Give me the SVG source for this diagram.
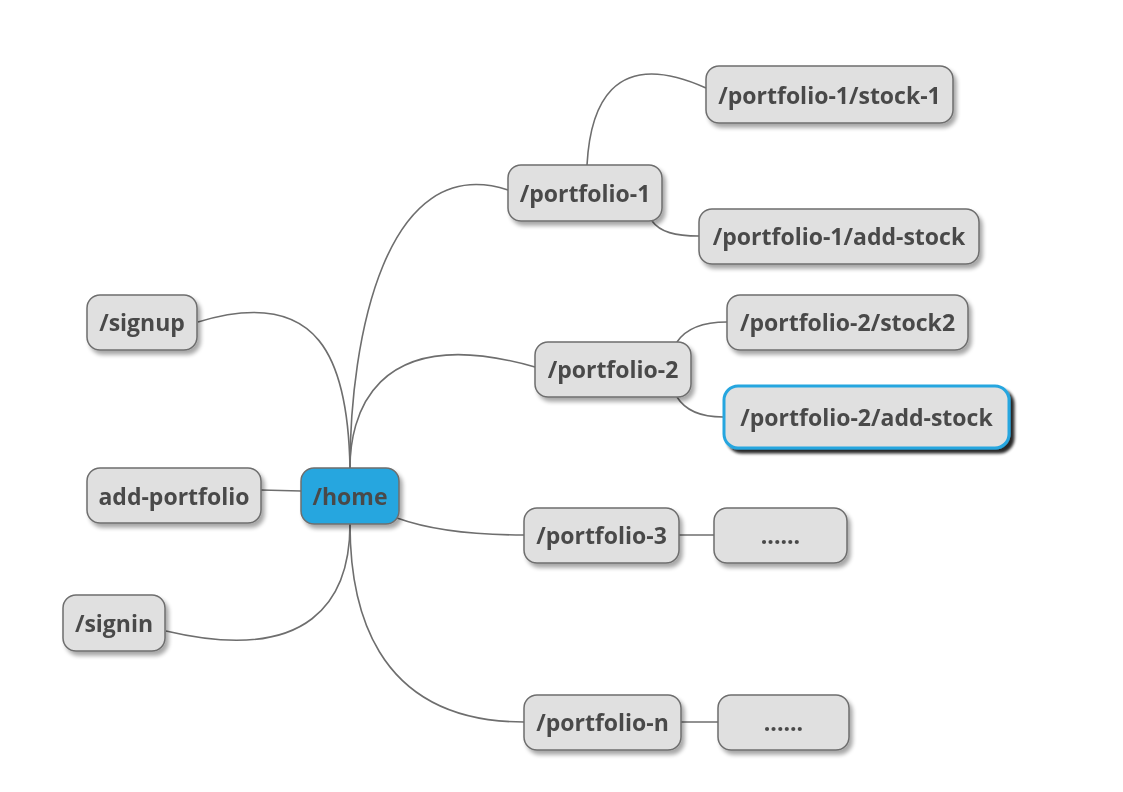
<svg xmlns="http://www.w3.org/2000/svg" width="1123" height="792" viewBox="0 0 1123 792">
<defs>
<filter id="sh" x="-20%" y="-30%" width="140%" height="170%">
<feGaussianBlur in="SourceAlpha" stdDeviation="2"/>
<feOffset dx="3" dy="4" result="b"/>
<feComponentTransfer><feFuncA type="linear" slope="0.35"/></feComponentTransfer>
<feMerge><feMergeNode/><feMergeNode in="SourceGraphic"/></feMerge>
</filter>
<filter id="sh2" x="-20%" y="-30%" width="140%" height="170%">
<feGaussianBlur in="SourceAlpha" stdDeviation="1.5"/>
<feOffset dx="4" dy="4" result="b"/>
<feComponentTransfer><feFuncA type="linear" slope="0.85"/></feComponentTransfer>
<feMerge><feMergeNode/><feMergeNode in="SourceGraphic"/></feMerge>
</filter>
</defs>
<style>
.n rect{fill:#e0e0e0;stroke:#6e6e6e;stroke-width:1.5}
.n text{font-family:"Open Sans","Noto Sans",sans-serif;font-weight:bold;font-size:23px;fill:#4a4a4a;text-anchor:middle;dominant-baseline:central}
#home rect{fill:#27a6df}
#p2add rect{stroke:#27a6df;stroke-width:3}
.c path{fill:none;stroke:#6e6e6e;stroke-width:1.6}
</style>
<rect width="1123" height="792" fill="#ffffff"/>
<g class="c">
<path d="M350,468 C348,360 320,285 198,322"/>
<path d="M261,490 L301,491"/>
<path d="M350,524 C350,600 310,665 166,631"/>
<path d="M350,468 C350,340 385,150 508,190"/>
<path d="M350,468 C350,420 370,320 535,367"/>
<path d="M397,518 C430,530 470,535 524,535"/>
<path d="M350,524 C350,600 370,722 524,722"/>
<path d="M587,165 C590,110 610,45 706,88"/>
<path d="M652,221 C660,232 675,236 699,236"/>
<path d="M677,342 C685,330 700,322 727,322"/>
<path d="M677,397 C685,410 700,417 723,417"/>
<path d="M679,535 L714,535"/>
<path d="M681,722 L718,722"/>
</g>
<g id="home" class="n" filter="url(#sh)"><rect x="301" y="468" width="98" height="56" rx="13"/><text x="350" y="496">/home</text></g>
<g id="addportfolio" class="n" filter="url(#sh)"><rect x="87" y="468" width="174" height="55" rx="13"/><text x="174" y="496">add-portfolio</text></g>
<g id="signup" class="n" filter="url(#sh)"><rect x="87" y="295" width="110" height="55" rx="13"/><text x="142" y="322">/signup</text></g>
<g id="signin" class="n" filter="url(#sh)"><rect x="63" y="595" width="102" height="56" rx="13"/><text x="114" y="623">/signin</text></g>
<g id="p1" class="n" filter="url(#sh)"><rect x="508" y="165" width="154" height="56" rx="13"/><text x="585" y="193">/portfolio-1</text></g>
<g id="p1s1" class="n" filter="url(#sh)"><rect x="706" y="66" width="247" height="57" rx="13"/><text x="829.5" y="95">/portfolio-1/stock-1</text></g>
<g id="p1add" class="n" filter="url(#sh)"><rect x="699" y="209" width="280" height="55" rx="13"/><text x="839" y="236">/portfolio-1/add-stock</text></g>
<g id="p2" class="n" filter="url(#sh)"><rect x="535" y="342" width="156" height="55" rx="13"/><text x="613" y="369">/portfolio-2</text></g>
<g id="p2s2" class="n" filter="url(#sh)"><rect x="727" y="295" width="241" height="55" rx="13"/><text x="847.5" y="322">/portfolio-2/stock2</text></g>
<g id="p2add" class="n" filter="url(#sh2)"><rect x="724" y="386" width="285" height="62" rx="14"/><text x="866.5" y="417">/portfolio-2/add-stock</text></g>
<g id="p3" class="n" filter="url(#sh)"><rect x="524" y="508" width="155" height="55" rx="13"/><text x="601.5" y="535">/portfolio-3</text></g>
<g id="p3more" class="n" filter="url(#sh)"><rect x="714" y="508" width="133" height="55" rx="13"/><text x="780.5" y="535">......</text></g>
<g id="pn" class="n" filter="url(#sh)"><rect x="524" y="695" width="157" height="55" rx="13"/><text x="602.5" y="722">/portfolio-n</text></g>
<g id="pnmore" class="n" filter="url(#sh)"><rect x="718" y="695" width="131" height="55" rx="13"/><text x="783.5" y="722">......</text></g>
</svg>
